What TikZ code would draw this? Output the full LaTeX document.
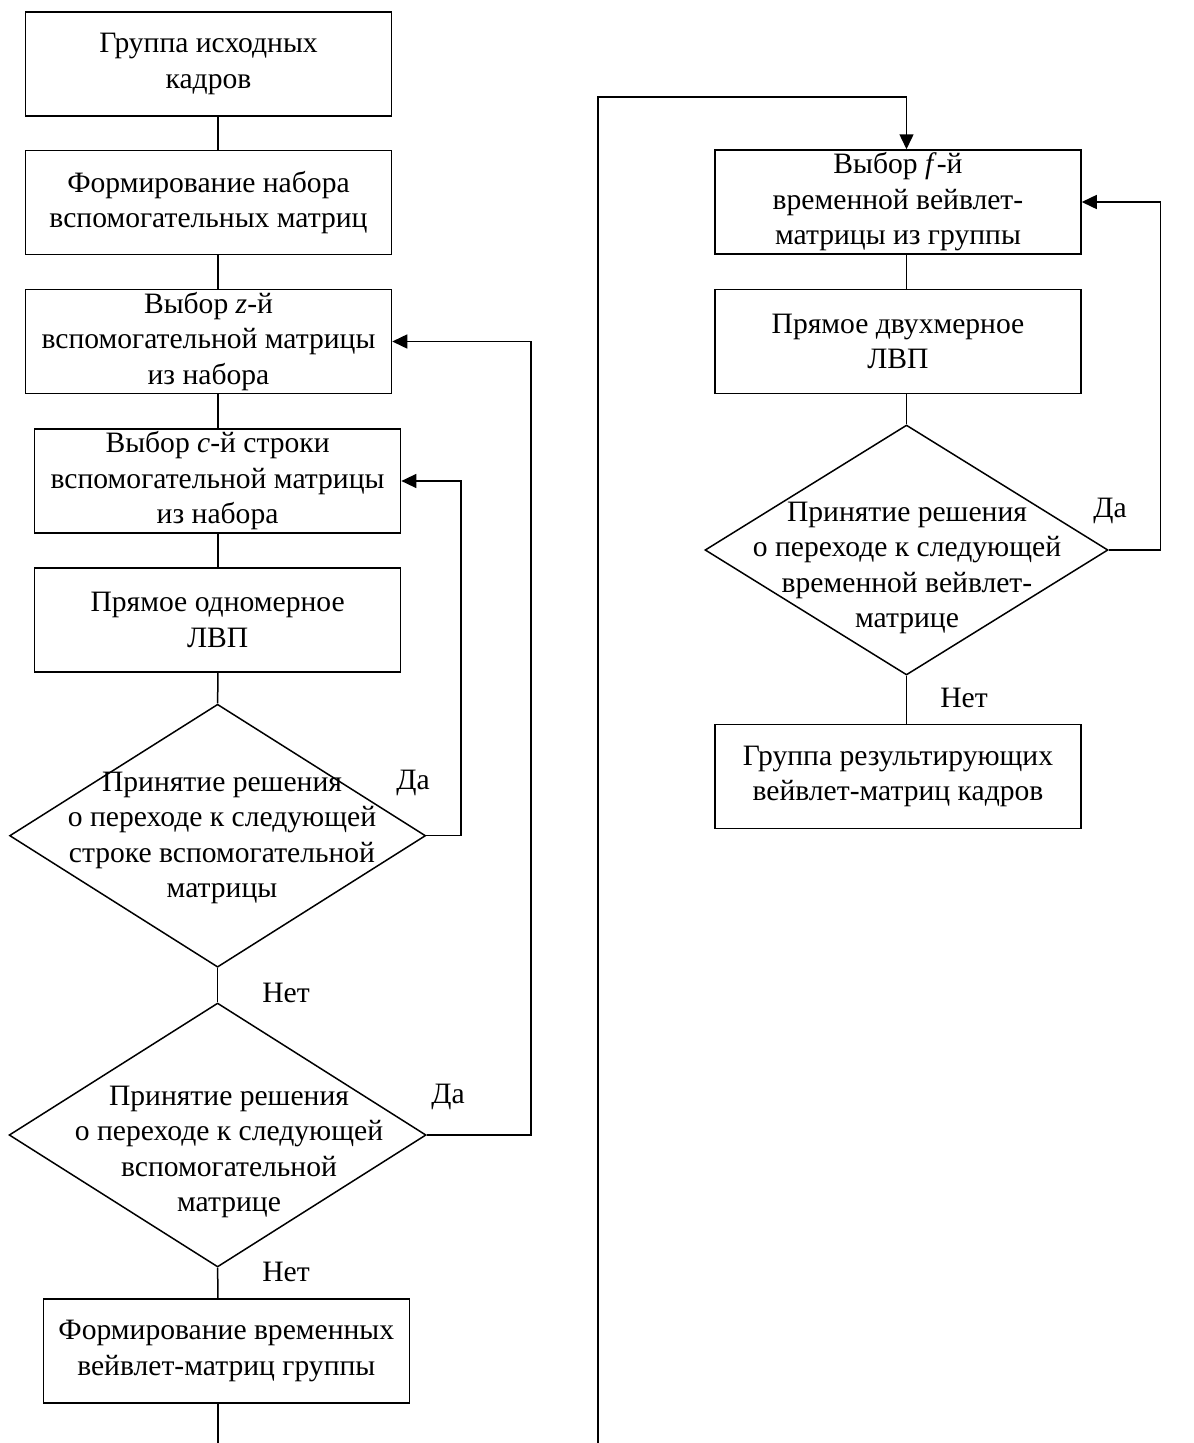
\documentclass[tikz,border=0pt]{standalone}
\usepackage{fontspec}
\setmainfont{Liberation Serif}
\usetikzlibrary{shapes.geometric,arrows.meta}
\begin{document}
\begin{tikzpicture}[x=1pt,y=-1pt,
  every node/.style={font=\fontsize{29.6}{35.5}\selectfont},
  blk/.style={draw, line width=1.5pt, minimum width=366pt, minimum height=104pt, inner sep=0pt, align=center},
  dia/.style={draw, diamond, line width=1.5pt, inner sep=0pt},
  txt/.style={align=center, inner sep=0pt},
  lbl/.style={inner sep=0pt},
  conn/.style={line width=1.5pt},
  arr/.style={conn, -{Triangle[length=15pt,width=14pt]}}
]
\useasboundingbox (0,0) rectangle (1194,1443);
% left column
\node[blk] (b1) at (208.5,64) {Группа исходных\\кадров};
\node[blk] (b2) at (208.5,202.5) {Формирование набора\\вспомогательных матриц};
\node[blk] (b3) at (208.5,341.5) {Выбор \textit{z}-й\\вспомогательной матрицы\\из набора};
\node[blk] (b4) at (217.6,481) {Выбор \textit{c}-й строки\\вспомогательной матрицы\\из набора};
\node[blk] (b5) at (217.6,620) {Прямое одномерное\\ЛВП};
\node[dia, minimum width=416pt, minimum height=263pt] (d1) at (217.6,835.7) {};
\node[txt] (d1t) at (222,838) {Принятие решения\\о переходе к следующей\\строке вспомогательной\\матрицы};
\node[dia, minimum width=417pt, minimum height=264pt] (d2) at (217.6,1135) {};
\node[txt] (d2t) at (229,1152) {Принятие решения\\о переходе к следующей\\вспомогательной\\матрице};
\node[blk] (b6) at (226.3,1351) {Формирование временных\\вейвлет-матриц группы};
% right column
\node[blk] (r1) at (898,202) {Выбор \textit{f}-й\\временной вейвлет-\\матрицы из группы};
\node[blk] (r2) at (898,341.3) {Прямое двухмерное\\ЛВП};
\node[dia, minimum width=403pt, minimum height=250pt] (d3) at (906.5,550) {};
\node[txt] (d3t) at (907,568) {Принятие решения\\о переходе к следующей\\временной вейвлет-\\матрице};
\node[blk] (r3) at (898,776.5) {Группа результирующих\\вейвлет-матриц кадров};
% labels
\node[lbl] (da1) at (413,783) {Да};
\node[lbl] (net1) at (286,993) {Нет};
\node[lbl] (da2) at (448,1097) {Да};
\node[lbl] (net2) at (286,1272) {Нет};
\node[lbl] (da3) at (1110,511) {Да};
\node[lbl] (net3) at (964,698) {Нет};
% helper coordinates
\coordinate (sp) at (218,0);
\coordinate (rp) at (906.5,0);
\coordinate (lp1) at (531,0);
\coordinate (lp2) at (461,0);
\coordinate (lp3) at (1160.5,0);
\coordinate (lend) at (218,1443);
\coordinate (tend) at (598,1443);
\coordinate (ltop) at (598,97);
% connectors left
\draw[conn] (b1.south -| sp) -- (b2.north -| sp);
\draw[conn] (b2.south -| sp) -- (b3.north -| sp);
\draw[conn] (b3.south -| sp) -- (b4.north -| sp);
\draw[conn] (b4.south -| sp) -- (b5.north -| sp);
\draw[conn] (b5.south -| sp) -- (d1.north);
\draw[conn] (d1.south) -- (d2.north);
\draw[conn] (d2.south) -- (b6.north -| sp);
\draw[conn] (b6.south -| sp) -- (lend);
\draw[arr] (d1.east) -- (d1.east -| lp2) |- (b4.east);
\draw[arr] (d2.east) -- (d2.east -| lp1) |- (b3.east);
% long connector
\draw[arr] (tend) -- (ltop) -| (r1.north -| rp);
% connectors right
\draw[conn] (r1.south -| rp) -- (r2.north -| rp);
\draw[conn] (r2.south -| rp) -- (d3.north);
\draw[conn] (d3.south) -- (r3.north -| rp);
\draw[arr] (d3.east) -- (d3.east -| lp3) |- (r1.east);
\end{tikzpicture}
\end{document}
